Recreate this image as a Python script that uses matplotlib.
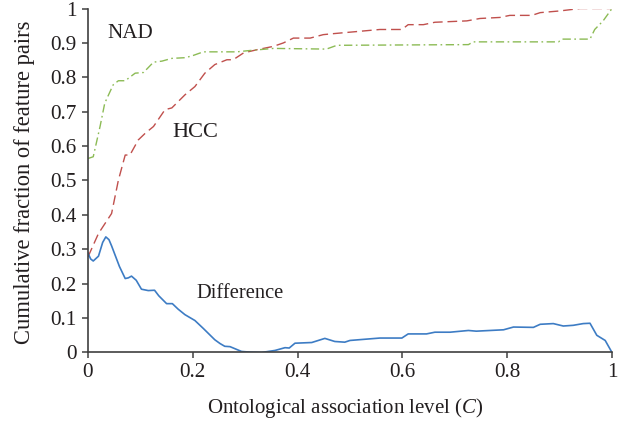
import matplotlib
matplotlib.use("Agg")
import matplotlib.pyplot as plt

# Difference curve (blue, solid)
diff_x = [0.0, 0.005, 0.010, 0.020, 0.028, 0.034, 0.040, 0.045, 0.060, 0.071, 0.077, 0.083,
          0.092, 0.102, 0.115, 0.127, 0.135, 0.150, 0.161, 0.172, 0.185, 0.204, 0.220, 0.242,
          0.252, 0.261, 0.271, 0.293, 0.310, 0.331, 0.357, 0.376, 0.384, 0.395, 0.427, 0.452,
          0.471, 0.490, 0.500, 0.557, 0.599, 0.611, 0.646, 0.662, 0.691, 0.726, 0.741, 0.793,
          0.812, 0.850, 0.863, 0.888, 0.907, 0.926, 0.945, 0.958, 0.971, 0.987, 1.0]
diff_y = [0.289, 0.272, 0.266, 0.280, 0.320, 0.336, 0.328, 0.310, 0.250, 0.215, 0.217, 0.222,
          0.210, 0.184, 0.180, 0.181, 0.165, 0.142, 0.142, 0.126, 0.110, 0.093, 0.070, 0.037,
          0.026, 0.018, 0.017, 0.003, 0.001, 0.000, 0.006, 0.014, 0.013, 0.027, 0.029, 0.041,
          0.032, 0.030, 0.035, 0.042, 0.042, 0.054, 0.054, 0.059, 0.059, 0.064, 0.062, 0.066,
          0.074, 0.073, 0.082, 0.084, 0.077, 0.079, 0.084, 0.085, 0.050, 0.035, 0.0]

# HCC curve (red, dashed)
hcc_x = [0.0, 0.020, 0.045, 0.058, 0.071, 0.080, 0.096, 0.109, 0.125, 0.147, 0.160, 0.185,
         0.204, 0.223, 0.242, 0.265, 0.277, 0.297, 0.322, 0.354, 0.373, 0.392, 0.424, 0.449,
         0.469, 0.506, 0.557, 0.599, 0.611, 0.640, 0.662, 0.723, 0.748, 0.786, 0.805, 0.847,
         0.863, 0.901, 0.939, 1.0]
hcc_y = [0.278, 0.346, 0.404, 0.501, 0.574, 0.574, 0.618, 0.637, 0.657, 0.706, 0.711, 0.749,
         0.773, 0.812, 0.837, 0.851, 0.851, 0.871, 0.880, 0.890, 0.900, 0.914, 0.914, 0.924,
         0.927, 0.932, 0.939, 0.939, 0.953, 0.953, 0.960, 0.964, 0.971, 0.974, 0.980, 0.980,
         0.988, 0.993, 1.0, 1.0]

# NAD curve (green, dash-dot)
nad_x = [0.0, 0.010, 0.023, 0.032, 0.048, 0.058, 0.071, 0.090, 0.106, 0.125, 0.141, 0.160,
         0.185, 0.198, 0.220, 0.284, 0.303, 0.354, 0.455, 0.475, 0.726, 0.735, 0.898, 0.904,
         0.958, 0.967, 0.983, 1.0]
nad_y = [0.564, 0.569, 0.657, 0.725, 0.778, 0.790, 0.790, 0.812, 0.814, 0.844, 0.847, 0.855,
         0.857, 0.862, 0.874, 0.874, 0.877, 0.884, 0.882, 0.893, 0.895, 0.903, 0.903, 0.911,
         0.911, 0.939, 0.964, 1.0]

x_ticks = [0, 0.2, 0.4, 0.6, 0.8, 1]
x_tick_labels = ["0", "0.2", "0.4", "0.6", "0.8", "1"]
y_ticks = [0, 0.1, 0.2, 0.3, 0.4, 0.5, 0.6, 0.7, 0.8, 0.9, 1]
y_tick_labels = ["0", "0.1", "0.2", "0.3", "0.4", "0.5", "0.6", "0.7", "0.8", "0.9", "1"]

plt.rcParams['font.family'] = ['Liberation Serif', 'DejaVu Serif']
plt.rcParams['mathtext.fontset'] = 'custom'
plt.rcParams['mathtext.it'] = 'Liberation Serif:italic'
plt.rcParams['mathtext.rm'] = 'Liberation Serif'

txt_color = "#231f20"

fig = plt.figure(figsize=(6.34, 4.25), dpi=100)
ax = fig.add_axes([0.1388, 0.1706, 0.8265, 0.8094])

ax.plot(hcc_x, hcc_y, color="#c0504d", lw=1.0, dashes=(7, 3.5))
ax.plot(nad_x, nad_y, color="#8cbb55", lw=1.0, dashes=(6, 2.5, 1.2, 2.5))
ax.plot(diff_x, diff_y, color="#3d7cc4", lw=1.2)

t_nad = ax.text(0.081, 0.913, "NAD", fontsize=15, ha="center", va="baseline", color=txt_color)
t_hcc = ax.text(0.205, 0.627, "HCC", fontsize=15, ha="center", va="baseline", color=txt_color)
t_diff = ax.text(0.291, 0.158, "Difference", fontsize=15, ha="center", va="baseline", color=txt_color)

ax.set_xlim(0, 1)
ax.set_ylim(0, 1)
ax.set_xticks(x_ticks)
ax.set_xticklabels(x_tick_labels)
ax.set_yticks(y_ticks)
ax.set_yticklabels(y_tick_labels)
ax.tick_params(labelsize=14, colors="#404040", labelcolor=txt_color, direction="out",
               length=4, width=1.1)
ax.tick_params(axis="x", pad=3.5)
ax.tick_params(axis="y", pad=4)
ax.spines["top"].set_visible(False)
ax.spines["right"].set_visible(False)
ax.spines["left"].set_color("#404040")
ax.spines["bottom"].set_color("#404040")
ax.spines["left"].set_linewidth(1.2)
ax.spines["bottom"].set_linewidth(1.2)

ax.set_xlabel("Ontological association level ($\\it{C}$)", fontsize=14, color=txt_color)
ax.set_ylabel("Cumulative fraction of feature pairs", fontsize=14, color=txt_color)

# scale text sizes so they take the same room as in the reference (pixels)
fig.canvas.draw()
renderer = fig.canvas.get_renderer()


def fit(t, target, vertical=False):
    bb = t.get_window_extent(renderer)
    size = bb.height if vertical else bb.width
    t.set_fontsize(t.get_fontsize() * target / size)


fit(t_nad, 46)
fit(t_hcc, 46)
fit(t_diff, 88)
fit(ax.xaxis.label, 278)
fit(ax.yaxis.label, 324, vertical=True)
tick_w = ax.get_yticklabels()[9].get_window_extent(renderer).width
ax.tick_params(labelsize=14 * 26.5 / tick_w)

# place the axis labels where the reference has them
H = 425
ax.xaxis.set_label_coords(0.49, 0)
ax.yaxis.set_label_coords(-0.11, 0.5)
fig.canvas.draw()
ax_bb = ax.get_window_extent(renderer)
bb = ax.xaxis.label.get_window_extent(renderer)
cy = (bb.y0 + bb.y1) / 2
ax.xaxis.set_label_coords(0.49, (H - 408 - cy) / ax_bb.height)
bb = ax.yaxis.label.get_window_extent(renderer)
cx = (bb.x0 + bb.x1) / 2
ax.yaxis.set_label_coords(-0.11 + (25 - cx) / ax_bb.width, (H - 182 - ax_bb.y0) / ax_bb.height)

fig.savefig("out.png", dpi=100)
